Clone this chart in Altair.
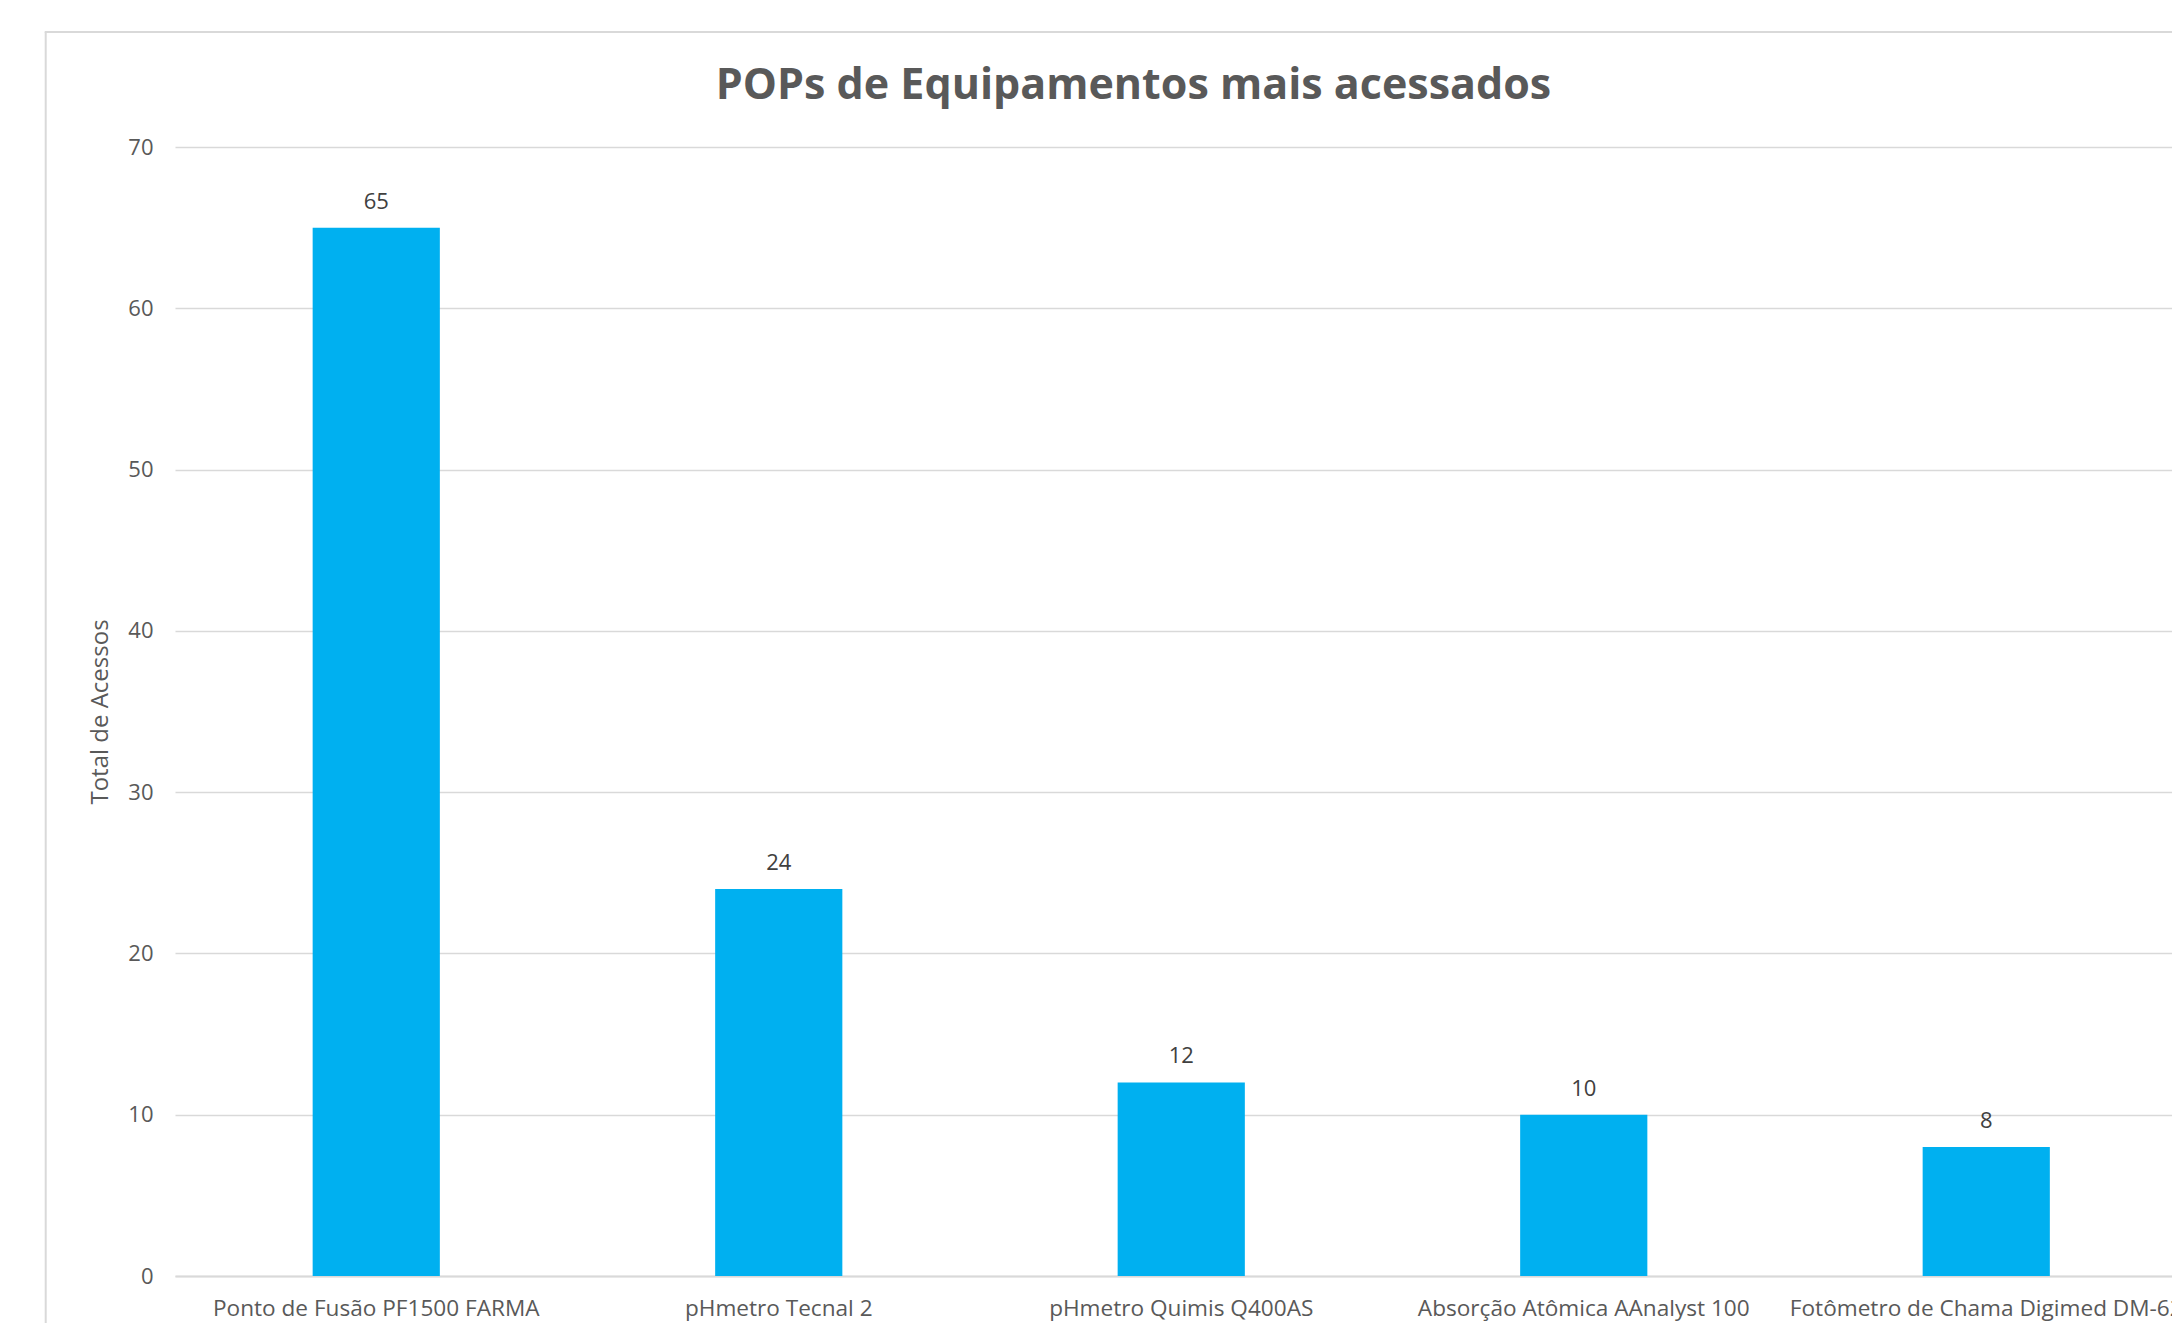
import altair as alt
import pandas as pd

categories = [
    "Ponto de Fusão PF1500 FARMA",
    "pHmetro Tecnal 2",
    "pHmetro Quimis Q400AS",
    "Absorção Atômica AAnalyst 100",
    "Fotômetro de Chama Digimed DM-62",
]
values = [65, 24, 12, 10, 8]
y_ticks = [0, 10, 20, 30, 40, 50, 60, 70]

df = pd.DataFrame({"equip": categories, "acessos": values})

FONT = "Open Sans"
GRAY = "#595959"
GRID = "#d9d9d9"
W = 1997
H = 1129

x_enc = alt.X(
    "equip:N",
    sort=categories,
    scale=alt.Scale(range=[0, 2012.5], paddingInner=0, paddingOuter=0),
    axis=alt.Axis(
        title=None,
        labelAngle=0,
        labelFont=FONT,
        labelFontSize=22.6,
        labelColor=GRAY,
        labelPadding=21,
        labelLimit=1000,
        labelOverlap=False,
        ticks=False,
        domainColor=GRID,
        domainWidth=2,
        grid=False,
    ),
)
y_enc = alt.Y(
    "acessos:Q",
    scale=alt.Scale(domain=[0, 70], nice=False),
    axis=alt.Axis(
        title="Total de Acessos",
        values=y_ticks,
        labelFont=FONT,
        labelFontSize=22,
        labelColor=GRAY,
        labelPadding=22,
        ticks=False,
        domain=False,
        gridColor=GRID,
        gridWidth=1.6,
        titleFont=FONT,
        titleFontSize=24,
        titleFontWeight="normal",
        titleColor=GRAY,
        titleX=-75,
        titleY=H / 2,
        titleAngle=-90,
        titleBaseline="middle",
        titleAlign="center",
    ),
)

bars = alt.Chart(df).mark_bar(
    color="#00B0F0", width=alt.RelativeBandSize(0.316)
).encode(x=x_enc, y=y_enc)

labels = alt.Chart(df).mark_text(
    font=FONT, fontSize=22, color="#404040", baseline="middle", dy=-26
).encode(
    x=alt.X("equip:N", sort=categories),
    y=alt.Y("acessos:Q"),
    text=alt.Text("acessos:Q"),
)

frame_data = alt.Data(values=[{"k": 1}])
frame_left = alt.Chart(frame_data).mark_rule(color=GRID, strokeWidth=2).encode(
    x=alt.value(-129.3), y=alt.value(-115), y2=alt.value(H + 80)
)
frame_top = alt.Chart(frame_data).mark_rule(color=GRID, strokeWidth=2).encode(
    x=alt.value(-130.3), x2=alt.value(W + 20), y=alt.value(-115)
)

chart = (
    alt.layer(frame_left, frame_top, bars, labels)
    .properties(
        width=W,
        height=H,
        autosize=alt.AutoSizeParams(type="none"),
        padding={"left": 167, "top": 139, "right": 0, "bottom": 47},
        background="white",
        title=alt.TitleParams(
            text="POPs de Equipamentos mais acessados",
            font=FONT,
            fontSize=43,
            fontWeight="bold",
            color=GRAY,
            anchor="middle",
            frame="group",
            dx=-40,
            baseline="alphabetic",
            offset=-111,
        ),
    )
    .configure_view(stroke=None)
)

chart.save("out.html", embed_options={"renderer": "svg", "actions": False})
